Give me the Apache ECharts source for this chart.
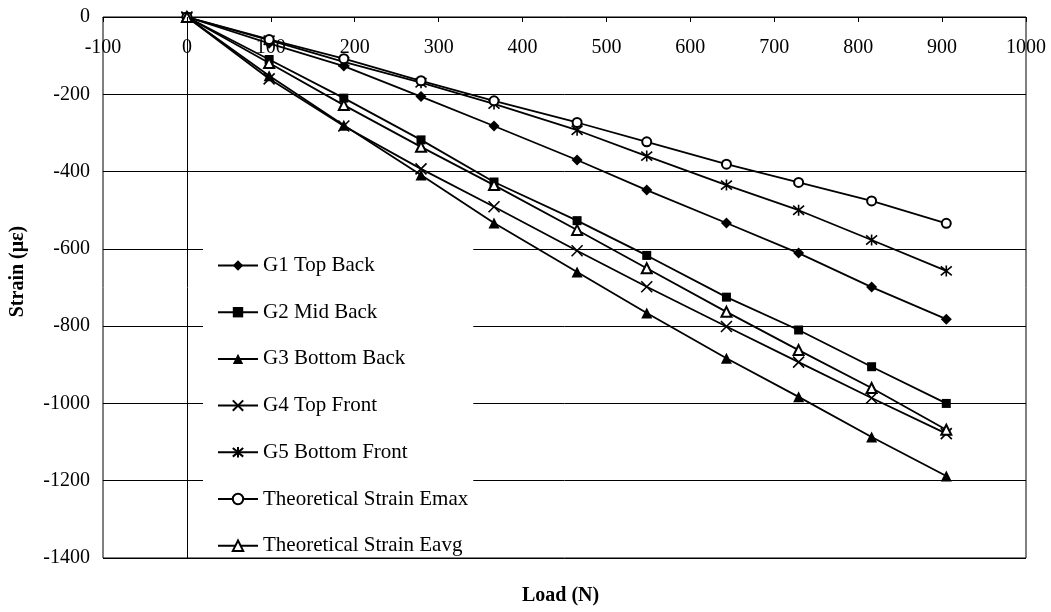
<!DOCTYPE html>
<html>
<head>
<meta charset="utf-8">
<script src="https://cdn.jsdelivr.net/npm/echarts@6/dist/echarts.min.js"></script>
<style>html,body{margin:0;padding:0;background:#fff}#c{width:1051px;height:612px}</style>
</head>
<body>
<div id="c"></div>
<script>
const loads = [0, 98, 187, 279, 366, 465, 548, 643, 729, 816, 905];
const g1TopBack = [0, -68, -127, -206, -282, -370, -448, -533, -611, -699, -782];
const g2MidBack = [0, -110, -210, -318, -427, -527, -617, -725, -810, -905, -1000];
const g3BottomBack = [0, -152, -280, -409, -533, -660, -766, -883, -983, -1087, -1188];
const g4TopFront = [0, -160, -282, -393, -491, -605, -698, -801, -893, -986, -1078];
const g5BottomFront = [0, -60, -116, -170, -225, -293, -360, -435, -500, -577, -657];
const emax = [0, -58, -108, -165, -217, -273, -323, -381, -428, -476, -534];
const eavg = [0, -119, -228, -336, -435, -551, -650, -763, -862, -960, -1068];

const names = ['G1 Top Back','G2 Mid Back','G3 Bottom Back','G4 Top Front','G5 Bottom Front','Theoretical Strain Emax','Theoretical Strain Eavg'];
const values = [g1TopBack, g2MidBack, g3BottomBack, g4TopFront, g5BottomFront, emax, eavg];

const font = 'Liberation Serif';
const symbols = [
  {symbol:'diamond', size:11, style:{color:'#000'}},
  {symbol:'rect', size:9, style:{color:'#000'}},
  {symbol:'triangle', size:11, style:{color:'#000'}},
  {symbol:'path://M0,0 L10,10 M10,0 L0,10', size:11, style:{color:'none', borderColor:'#000', borderWidth:1.6}},
  {symbol:'path://M0,0 L10,10 M10,0 L0,10 M5,-1 L5,11', size:11, style:{color:'none', borderColor:'#000', borderWidth:1.6}},
  {symbol:'emptyCircle', size:9, style:{color:'#000', borderWidth:1.4}},
  {symbol:'emptyTriangle', size:10, style:{color:'#000', borderWidth:1.4}}
];

const series = values.map((v, i) => {
  const s = {
    name: names[i],
    type: 'line',
    data: loads.map((x, j) => [x, v[j]]),
    symbol: symbols[i].symbol,
    symbolSize: symbols[i].size,
    itemStyle: symbols[i].style,
    lineStyle: {color:'#000', width:1.8},
    animation: false
  };
  if (i === 0) {
    s.markLine = {
      silent: true,
      symbol: ['none','none'],
      label: {show:false},
      lineStyle: {color:'#000', type:'solid', width:1},
      data: [{xAxis: 0}],
      animation: false
    };
  }
  return s;
});

const chart = echarts.init(document.getElementById('c'));
chart.setOption({
  backgroundColor: '#fff',
  animation: false,
  grid: {left:103, right:25, top:17, bottom:54, show:true, borderColor:'#000', borderWidth:1, backgroundColor:'transparent'},
  title: {text:'Load (N)', left:522, top:586, padding:0,
    textStyle:{fontFamily:font, fontWeight:'bold', fontSize:20, color:'#000'}},
  legend: {
    orient:'vertical', left:203, top:245, padding:[10,5,0,14],
    backgroundColor:'#fff', itemWidth:40, itemHeight:13, itemGap:25.7,
    textStyle:{fontFamily:font, fontSize:21, color:'#000'},
    data: names
  },
  xAxis: {
    type:'value', position:'top', min:-100, max:1000, interval:100,
    axisLine:{show:true, lineStyle:{color:'#000', width:1}},
    axisTick:{show:true, inside:true, length:5, lineStyle:{color:'#000'}},
    axisLabel:{inside:true, margin:21, fontFamily:font, fontSize:20, color:'#000',
      formatter: v => String(v)},
    splitLine:{show:false}
  },
  yAxis: {
    type:'value', min:-1400, max:0, interval:200,
    name:'Strain (\u03bc\u03b5)', nameLocation:'middle', nameGap:75,
    nameTextStyle:{fontFamily:font, fontWeight:'bold', fontSize:20, color:'#000', padding:[0,0,0,32]},
    axisLine:{show:false},
    axisTick:{show:false},
    axisLabel:{margin:13, fontFamily:font, fontSize:20, color:'#000',
      formatter: v => String(v)},
    splitLine:{show:true, lineStyle:{color:'#000', width:1}}
  },
  series: series
});
</script>
</body>
</html>
